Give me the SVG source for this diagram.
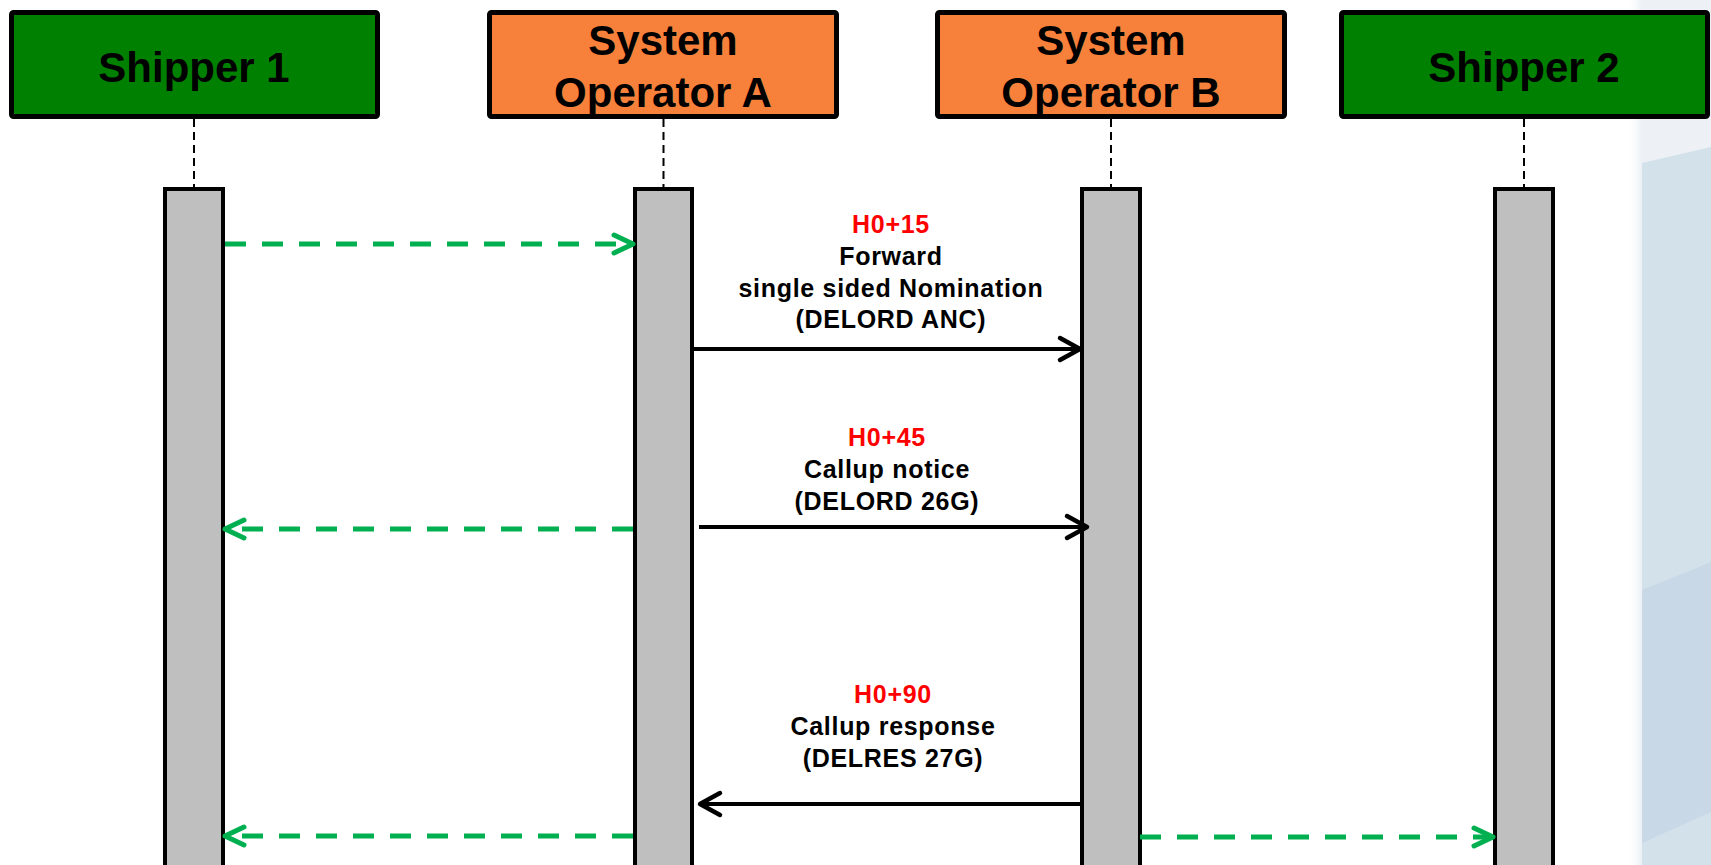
<svg xmlns="http://www.w3.org/2000/svg" width="1711" height="865" viewBox="0 0 1711 865">
<style>
.box{stroke:#000;stroke-width:5}
.ship{fill:#008000}
.sys{fill:#f7813a}
.title{font-family:"Liberation Sans",Arial,sans-serif;font-weight:bold;font-size:42px;fill:#000;text-anchor:middle}
.life{stroke:#000;stroke-width:2;stroke-dasharray:8 5;fill:none}
.bar{fill:#bfbfbf;stroke:#000;stroke-width:4}
.msg{stroke:#000;stroke-width:4;fill:none}
.ret{stroke:#00b050;stroke-width:5;stroke-dasharray:21 16;fill:none}
.lbl{font-family:"Liberation Sans",Arial,sans-serif;font-weight:bold;font-size:25px;letter-spacing:0.7px;fill:#000;text-anchor:middle}
.time{fill:#ff0000}
</style>
<defs>
<marker id="ah-black" markerUnits="userSpaceOnUse" markerWidth="40" markerHeight="40" viewBox="-30 -20 40 40" refX="0" refY="0" orient="auto" overflow="visible">
<path d="M-20,-11 L0,0 L-20,11" fill="none" stroke="#000" stroke-width="4.5" stroke-linecap="round" stroke-linejoin="round"/>
</marker>
<marker id="ah-green" markerUnits="userSpaceOnUse" markerWidth="40" markerHeight="40" viewBox="-30 -20 40 40" refX="0" refY="0" orient="auto" overflow="visible">
<path d="M-19,-9 L0,0 L-19,9" fill="none" stroke="#00b050" stroke-width="5" stroke-linecap="round" stroke-linejoin="round"/>
</marker>
<linearGradient id="edge" x1="0" y1="0" x2="1" y2="0">
<stop offset="0" stop-color="#ffffff" stop-opacity="0"/>
<stop offset="1" stop-color="#e6edf3"/>
</linearGradient>
</defs>

<g id="background">
<rect x="1626" y="0" width="18" height="865" fill="url(#edge)"/>
<rect x="1642" y="0" width="69" height="865" fill="#d2e1ea"/>
<polygon points="1642,0 1711,0 1711,147 1642,163" fill="#edf1f5"/>
<polygon points="1642,590 1711,562 1711,812 1642,843" fill="#c9d8e6"/>
</g>

<g id="shipper1">
<rect class="box ship" x="11.5" y="12.5" width="366" height="104" rx="2"/>
<text class="title" x="194" y="82">Shipper 1</text>
<line class="life" x1="194" y1="119" x2="194" y2="187"/>
<rect class="bar" x="165" y="189" width="58" height="700"/>
</g>

<g id="system-operator-a">
<rect class="box sys" x="489.5" y="12.5" width="347" height="104" rx="2"/>
<text class="title" x="663" y="55">System</text>
<text class="title" x="663" y="107">Operator A</text>
<line class="life" x1="663.5" y1="119" x2="663.5" y2="187"/>
<rect class="bar" x="635" y="189" width="57" height="700"/>
</g>

<g id="system-operator-b">
<rect class="box sys" x="937.5" y="12.5" width="347" height="104" rx="2"/>
<text class="title" x="1111" y="55">System</text>
<text class="title" x="1111" y="107">Operator B</text>
<line class="life" x1="1111" y1="119" x2="1111" y2="187"/>
<rect class="bar" x="1082" y="189" width="58" height="700"/>
</g>

<g id="shipper2">
<rect class="box ship" x="1341.5" y="12.5" width="366" height="104" rx="2"/>
<text class="title" x="1524" y="82">Shipper 2</text>
<line class="life" x1="1524" y1="119" x2="1524" y2="187"/>
<rect class="bar" x="1495" y="189" width="58" height="700"/>
</g>

<g id="connectors">
<line class="ret" x1="225" y1="244" x2="633" y2="244" marker-end="url(#ah-green)"/>
<line class="msg" x1="694" y1="349" x2="1080" y2="349" marker-end="url(#ah-black)"/>
<line class="msg" x1="699" y1="527" x2="1087" y2="527" marker-end="url(#ah-black)"/>
<line class="ret" x1="633" y1="529" x2="225" y2="529" marker-end="url(#ah-green)"/>
<line class="msg" x1="1080" y1="804" x2="700" y2="804" marker-end="url(#ah-black)"/>
<line class="ret" x1="633" y1="836" x2="225" y2="836" marker-end="url(#ah-green)"/>
<line class="ret" x1="1140" y1="837" x2="1493" y2="837" marker-end="url(#ah-green)"/>
</g>

<g id="labels">
<text class="lbl time" x="891" y="233">H0+15</text>
<text class="lbl" x="891" y="265">Forward</text>
<text class="lbl" x="891" y="297">single sided Nomination</text>
<text class="lbl" x="891" y="328">(DELORD ANC)</text>
<text class="lbl time" x="887" y="446">H0+45</text>
<text class="lbl" x="887" y="478">Callup notice</text>
<text class="lbl" x="887" y="510">(DELORD 26G)</text>
<text class="lbl time" x="893" y="703">H0+90</text>
<text class="lbl" x="893" y="735">Callup response</text>
<text class="lbl" x="893" y="767">(DELRES 27G)</text>
</g>
</svg>
